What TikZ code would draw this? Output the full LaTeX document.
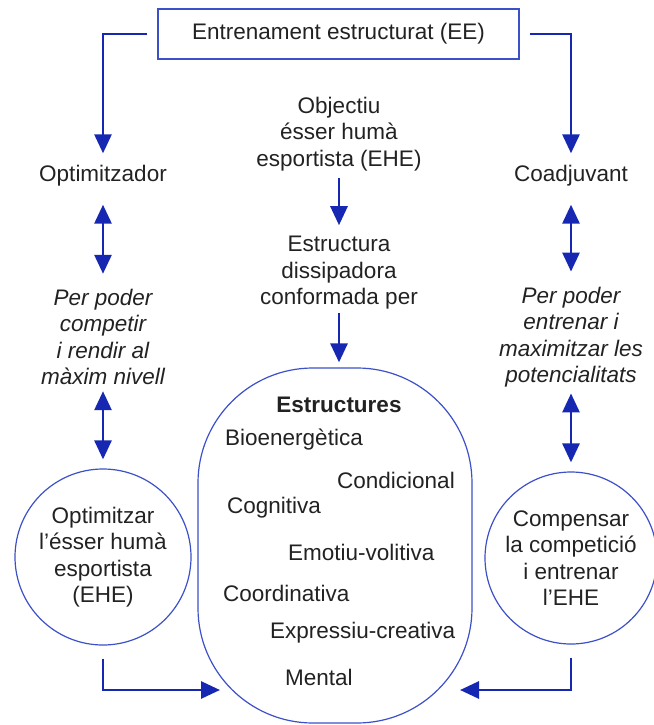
\documentclass[tikz,border=0pt]{standalone}
\usepackage{fontspec}
\setmainfont{Liberation Sans}
\usetikzlibrary{arrows.meta}
\definecolor{lblue}{RGB}{22,40,178}
\definecolor{sblue}{RGB}{60,80,200}
\definecolor{txt}{RGB}{34,34,34}
\begin{document}
\begin{tikzpicture}[x=1pt,y=-1pt,
  every node/.style={font=\fontsize{22.5}{26.5}\selectfont, text=txt, align=center, inner sep=0pt},
  conn/.style={draw=lblue, line width=2.8pt, -{Triangle[length=19pt,width=17pt]}},
  dconn/.style={draw=lblue, line width=2.8pt, {Triangle[length=19pt,width=17pt]}-{Triangle[length=19pt,width=17pt]}},
  shp/.style={draw=sblue, line width=1.2pt},
  item/.style={anchor=west}]
\useasboundingbox (0,0) rectangle (653,725);
% top box
\node[shp, minimum width=361pt, minimum height=50pt] (ee) at (338.5,34) {Entrenament estructurat (EE)};
% left column
\node (opt) at (103,176) {Optimitzador};
\node[font=\fontsize{22.5}{26.5}\selectfont\itshape] (lit) at (103,337) {Per poder\\competir\\i rendir al\\màxim nivell};
\node[shp, circle, minimum size=176pt] (lc) at (103,557) {Optimitzar\\l’ésser humà\\esportista\\(EHE)};
% right column
\node (coa) at (571,176) {Coadjuvant};
\node[font=\fontsize{22.5}{26.5}\selectfont\itshape] (rit) at (571,337) {Per poder\\entrenar i\\maximitzar les\\potencialitats};
\node[shp, circle, minimum size=172pt] (rc) at (571,558) {Compensar\\la competició\\i entrenar\\l’EHE};
% middle column
\node (obj) at (339,134) {Objectiu\\ésser humà\\esportista (EHE)};
\node (est) at (339,273) {Estructura\\dissipadora\\conformada per};
\node[shp, rectangle, rounded corners=115pt, minimum width=274pt, minimum height=355pt] (st) at (335,545.5) {};
\node[font=\fontsize{22.5}{26.5}\selectfont\bfseries] (hd) at (339,405) {Estructures};
\node[item] (i1) at (225,440) {Bioenergètica};
\node[item] (i2) at (337,480) {Condicional};
\node[item] (i3) at (227,508) {Cognitiva};
\node[item] (i4) at (288,552) {Emotiu-volitiva};
\node[item] (i5) at (223,593) {Coordinativa};
\node[item] (i6) at (270,633) {Expressiu-creativa};
\node[item] (i7) at (285,677) {Mental};
\coordinate (lin) at (220,690);
\coordinate (rin) at (460,690);
% connectors
\draw[conn, shorten >=12pt] ([xshift=-10pt]ee.west) -| (opt.north);
\draw[conn, shorten >=12pt] ([xshift=10pt]ee.east) -| (coa.north);
\draw[dconn, shorten <=18pt, shorten >=15pt] (opt.south) -- (lit.north);
\draw[dconn, shorten <=18pt, shorten >=15pt] (coa.south) -- (rit.north);
\draw[dconn, shorten <=6pt, shorten >=9pt] (lit.south) -- (lc.north);
\draw[dconn, shorten <=6pt, shorten >=9pt] (rit.south) -- (rc.north);
\draw[conn, shorten <=7pt, shorten >=11pt] (obj.south) -- (est.north);
\draw[conn, shorten <=3pt, shorten >=5pt] (est.south) -- (st.north -| est.south);
\draw[conn] ([yshift=-13pt]lc.south) |- (lin);
\draw[conn] ([yshift=-13pt]rc.south) |- (rin);
\end{tikzpicture}
\end{document}
